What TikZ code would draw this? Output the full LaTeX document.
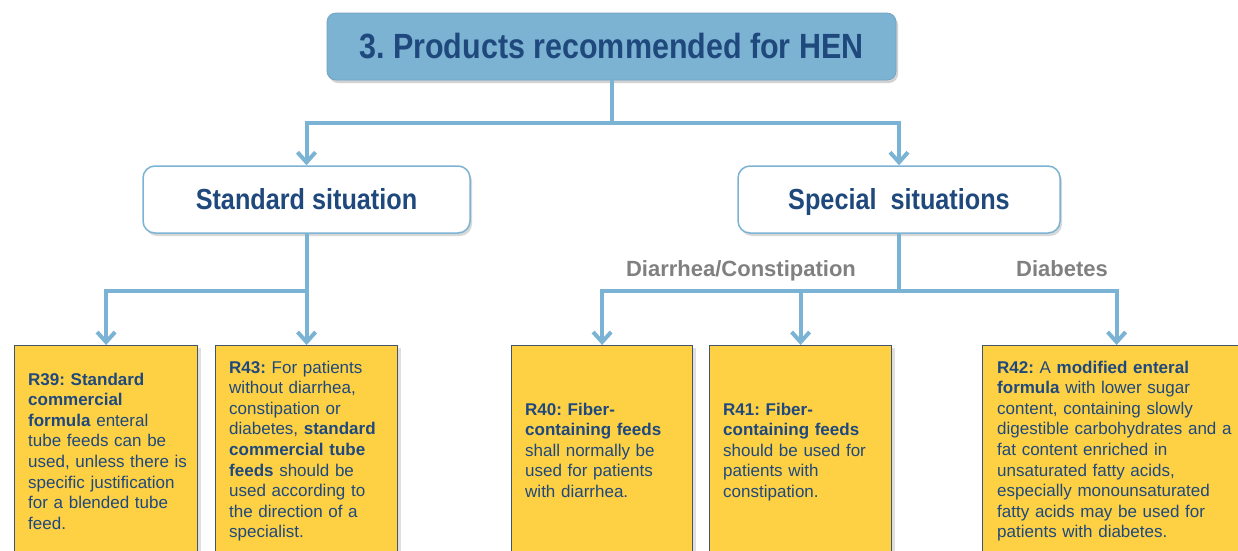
\documentclass[tikz,border=0pt]{standalone}
\usepackage{fontspec}
\setmainfont{Liberation Sans}
\newfontfamily\headfont[FakeStretch=0.87]{Liberation Sans}
\usetikzlibrary{arrows.meta, shadows}
\frenchspacing

\definecolor{headblue}{RGB}{124,178,210}
\definecolor{linkblue}{RGB}{123,179,212}
\definecolor{inkblue}{RGB}{31,73,125}
\definecolor{noteyellow}{RGB}{254,208,68}
\definecolor{noteedge}{RGB}{68,84,106}
\definecolor{labelgray}{RGB}{128,128,128}

\begin{document}
\begin{tikzpicture}[x=1pt, y=-1pt,
    headbox/.style={rectangle, rounded corners=9pt, draw=headblue!92!black, fill=headblue, line width=0.8pt,
      minimum width=569pt, minimum height=67pt, text=inkblue, font=\headfont\bfseries\fontsize{35}{40}\selectfont,
      drop shadow={shadow xshift=2pt, shadow yshift=-3pt, opacity=0.35}},
    sitbox/.style={rectangle, rounded corners=12pt, draw=linkblue, fill=white, line width=1.5pt,
      minimum height=67pt, text height=26pt, text depth=6pt, text=inkblue,
      font=\headfont\bfseries\fontsize{29}{34}\selectfont,
      drop shadow={shadow xshift=2pt, shadow yshift=-3pt, opacity=0.3}},
    notebox/.style={rectangle, draw=noteedge, fill=noteyellow, line width=1.2pt, anchor=north west,
      minimum height=220pt, drop shadow={shadow xshift=3pt, shadow yshift=-2pt, opacity=0.25}},
    notetext/.style={anchor=base west, inner sep=0pt, align=left, text=inkblue,
      font=\fontsize{17}{20.6}\selectfont},
    branch/.style={font=\bfseries\fontsize{22}{26}\selectfont, text=labelgray},
    link/.style={draw=linkblue, line width=4pt},
    linkarrow/.style={link, -{Straight Barb[length=10pt, width=18pt]}}
  ]
  \useasboundingbox (0,0) rectangle (1238,550);
  \fill[white] (0,0) rectangle (1238,550);
  \clip (0,0) rectangle (1238,550);

  % top level
  \node[headbox] (hen) at (611.5,46.5) {3. Products recommended for HEN};
  \node[sitbox, minimum width=327pt] (std) at (306.5,199.5) {Standard situation};
  \node[sitbox, minimum width=322pt] (spec) at (899,199.5) {Special\ \ situations};

  % recommendations
  \node[notebox, minimum width=183pt] (r39) at (14,345) {};
  \node[notebox, minimum width=182pt] (r43) at (215,345) {};
  \node[notebox, minimum width=181pt] (r40) at (511,345) {};
  \node[notebox, minimum width=182pt] (r41) at (709,345) {};
  \node[notebox, minimum width=268pt] (r42) at (982,345) {};

  \node[notetext, text width=170pt] (r39txt) at ([shift={(14,40)}]r39.north west)
    {\textbf{R39: Standard}\\ \textbf{commercial}\\ \textbf{formula} enteral\\ tube feeds can be\\
     used, unless there is\\ specific justification\\ for a blended tube\\ feed.};
  \node[notetext, text width=170pt] (r43txt) at ([shift={(14,28)}]r43.north west)
    {\textbf{R43:} For patients\\ without diarrhea,\\ constipation or\\ diabetes, \textbf{standard}\\
     \textbf{commercial tube}\\ \textbf{feeds} should be\\ used according to\\ the direction of a\\ specialist.};
  \node[notetext, text width=170pt] (r40txt) at ([shift={(14,70)}]r40.north west)
    {\textbf{R40: Fiber-}\\ \textbf{containing feeds}\\ shall normally be\\ used for patients\\ with diarrhea.};
  \node[notetext, text width=170pt] (r41txt) at ([shift={(14,70)}]r41.north west)
    {\textbf{R41: Fiber-}\\ \textbf{containing feeds}\\ should be used for\\ patients with\\ constipation.};
  \node[notetext, text width=245pt] (r42txt) at ([shift={(15,28)}]r42.north west)
    {\textbf{R42:} A \textbf{modified enteral}\\ \textbf{formula} with lower sugar\\ content, containing slowly\\
     digestible carbohydrates and a\\ fat content enriched in\\ unsaturated fatty acids,\\
     especially monounsaturated\\ fatty acids may be used for\\ patients with diabetes.};

  % branch labels
  \node[branch] (diarlab) at (741,271) {Diarrhea/Constipation};
  \node[branch] (diablab) at (1062,269) {Diabetes};

  % connectors
  \draw[link] (hen.south) -- ++(0,43) coordinate (split);
  \draw[linkarrow] (split) -| (std.north);
  \draw[linkarrow] (split) -| (spec.north);

  \draw[link] (std.south) -- ++(0,57) coordinate (stdsplit);
  \draw[linkarrow] (stdsplit) -| (r39.north);
  \draw[linkarrow] (stdsplit) -| (r43.north);

  \draw[link] (spec.south) -- ++(0,57) coordinate (specsplit);
  \draw[linkarrow] (specsplit) -| (r40.north);
  \draw[linkarrow] (specsplit) -| (r41.north);
  \draw[linkarrow] (specsplit) -| (r42.north);
\end{tikzpicture}
\end{document}
